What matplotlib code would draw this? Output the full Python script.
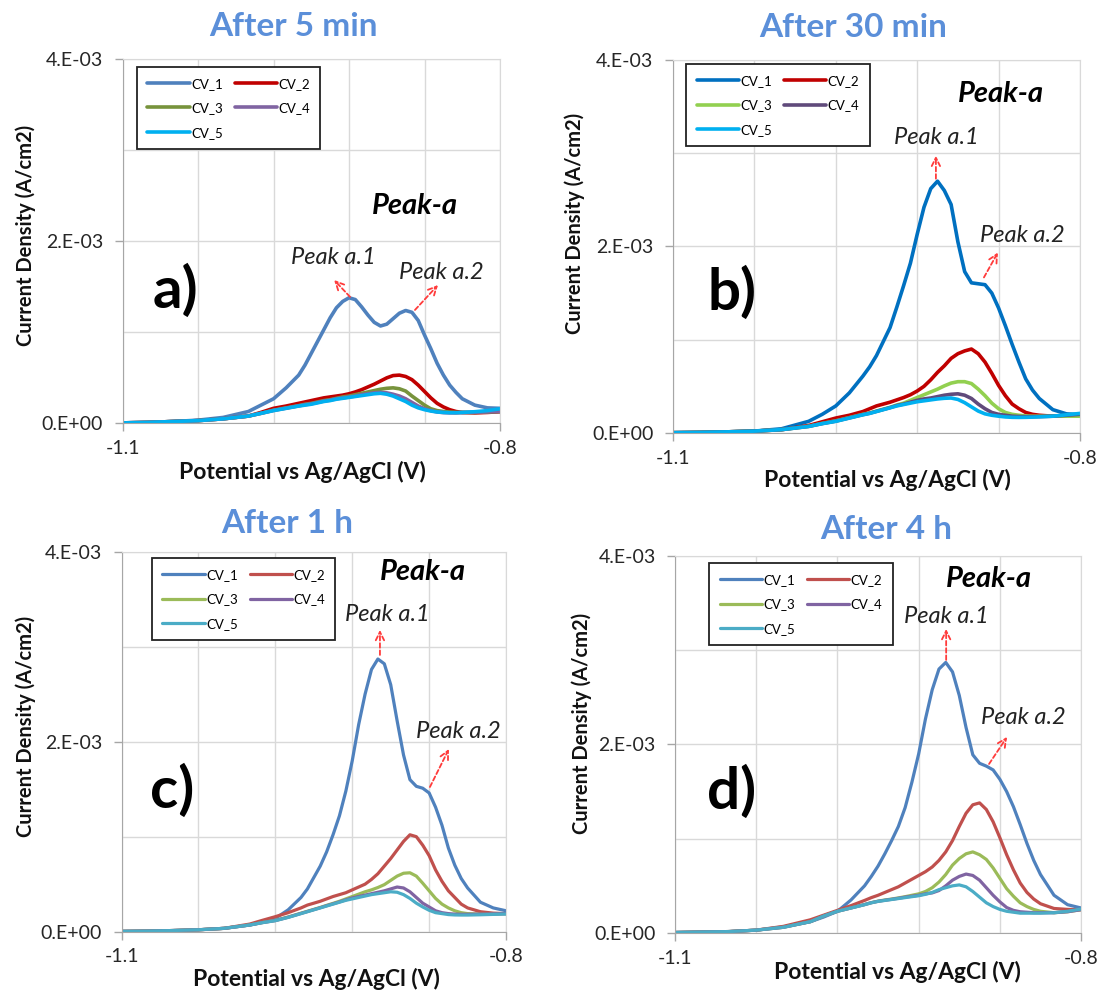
import matplotlib
matplotlib.use('Agg')
import matplotlib.pyplot as plt
from matplotlib.ticker import FuncFormatter, FixedLocator

plt.rcParams['font.family'] = ['Lato', 'DejaVu Sans']
plt.rcParams['axes.unicode_minus'] = False

# ---------------- data (current density in 1e-3 A/cm2) ----------------
POTENTIAL = [-1.10, -1.08, -1.06, -1.04, -1.02, -1.00, -0.99, -0.98, -0.97, -0.96,
             -0.955, -0.95, -0.945, -0.94, -0.935, -0.93, -0.925, -0.92, -0.915, -0.91,
             -0.905, -0.90, -0.895, -0.89, -0.885, -0.88, -0.875, -0.87, -0.865, -0.86,
             -0.855, -0.85, -0.845, -0.84, -0.835, -0.83, -0.82, -0.81, -0.80]

# a) After 5 min
A_CV1 = [0.005, 0.01, 0.02, 0.035, 0.065, 0.13, 0.20, 0.27, 0.39, 0.53,
         0.64, 0.77, 0.90, 1.03, 1.16, 1.27, 1.34, 1.38, 1.36, 1.28,
         1.19, 1.11, 1.07, 1.09, 1.15, 1.21, 1.24, 1.22, 1.13, 0.97,
         0.82, 0.66, 0.53, 0.42, 0.34, 0.27, 0.20, 0.17, 0.165]
A_CV2 = [0.005, 0.01, 0.02, 0.03, 0.05, 0.08, 0.12, 0.165, 0.19, 0.22,
         0.235, 0.25, 0.265, 0.28, 0.29, 0.30, 0.31, 0.325, 0.345, 0.37,
         0.40, 0.43, 0.465, 0.50, 0.525, 0.53, 0.515, 0.48, 0.42, 0.35,
         0.28, 0.22, 0.18, 0.15, 0.13, 0.12, 0.115, 0.12, 0.128]
A_CV3 = [0.005, 0.01, 0.02, 0.03, 0.05, 0.08, 0.11, 0.145, 0.17, 0.195,
         0.21, 0.22, 0.235, 0.25, 0.26, 0.275, 0.29, 0.30, 0.315, 0.33,
         0.345, 0.36, 0.375, 0.385, 0.39, 0.38, 0.355, 0.30, 0.25, 0.20,
         0.16, 0.14, 0.13, 0.124, 0.12, 0.12, 0.12, 0.124, 0.13]
A_CV4 = [0.005, 0.01, 0.02, 0.03, 0.05, 0.08, 0.11, 0.142, 0.167, 0.192,
         0.205, 0.215, 0.23, 0.245, 0.255, 0.27, 0.28, 0.29, 0.30, 0.315,
         0.325, 0.335, 0.34, 0.335, 0.32, 0.30, 0.27, 0.23, 0.19, 0.16,
         0.14, 0.125, 0.118, 0.115, 0.115, 0.118, 0.122, 0.126, 0.13]
A_CV5 = [0.005, 0.01, 0.02, 0.03, 0.05, 0.08, 0.11, 0.14, 0.165, 0.19,
         0.20, 0.21, 0.225, 0.24, 0.25, 0.265, 0.275, 0.285, 0.295, 0.305,
         0.315, 0.325, 0.33, 0.32, 0.30, 0.27, 0.24, 0.20, 0.17, 0.15,
         0.135, 0.125, 0.12, 0.117, 0.117, 0.12, 0.128, 0.14, 0.16]

# b) After 30 min
B_CV1 = [0.003, 0.006, 0.012, 0.02, 0.045, 0.125, 0.20, 0.29, 0.43, 0.61,
         0.71, 0.83, 0.98, 1.13, 1.35, 1.58, 1.82, 2.13, 2.42, 2.62,
         2.70, 2.60, 2.45, 2.05, 1.73, 1.61, 1.60, 1.59, 1.50, 1.34,
         1.15, 0.95, 0.76, 0.58, 0.46, 0.37, 0.25, 0.205, 0.196]
B_CV2 = [0.003, 0.006, 0.012, 0.02, 0.035, 0.08, 0.12, 0.16, 0.19, 0.23,
         0.26, 0.29, 0.31, 0.33, 0.355, 0.38, 0.41, 0.45, 0.50, 0.57,
         0.65, 0.72, 0.80, 0.85, 0.88, 0.90, 0.85, 0.76, 0.64, 0.51,
         0.40, 0.31, 0.26, 0.22, 0.20, 0.19, 0.18, 0.18, 0.18]
B_CV3 = [0.003, 0.006, 0.012, 0.02, 0.036, 0.072, 0.103, 0.13, 0.165, 0.20,
         0.215, 0.235, 0.255, 0.275, 0.30, 0.32, 0.35, 0.38, 0.41, 0.44,
         0.47, 0.505, 0.535, 0.55, 0.55, 0.53, 0.47, 0.40, 0.32, 0.26,
         0.22, 0.20, 0.19, 0.183, 0.18, 0.18, 0.18, 0.18, 0.18]
B_CV4 = [0.003, 0.006, 0.012, 0.02, 0.036, 0.071, 0.101, 0.127, 0.162, 0.197,
         0.212, 0.232, 0.252, 0.272, 0.295, 0.31, 0.33, 0.35, 0.365, 0.375,
         0.39, 0.405, 0.415, 0.42, 0.405, 0.37, 0.31, 0.26, 0.22, 0.20,
         0.19, 0.18, 0.177, 0.175, 0.175, 0.176, 0.18, 0.19, 0.20]
B_CV5 = [0.003, 0.006, 0.012, 0.02, 0.036, 0.07, 0.10, 0.125, 0.16, 0.195,
         0.21, 0.23, 0.25, 0.27, 0.29, 0.305, 0.32, 0.335, 0.345, 0.355,
         0.365, 0.372, 0.375, 0.36, 0.325, 0.28, 0.235, 0.205, 0.19, 0.18,
         0.172, 0.168, 0.167, 0.168, 0.17, 0.173, 0.18, 0.195, 0.21]

# c) After 1 h
C_CV1 = [0.003, 0.006, 0.012, 0.02, 0.035, 0.07, 0.10, 0.14, 0.23, 0.36,
         0.45, 0.57, 0.69, 0.84, 1.02, 1.22, 1.48, 1.80, 2.18, 2.50,
         2.76, 2.87, 2.82, 2.60, 2.22, 1.86, 1.60, 1.53, 1.51, 1.46,
         1.31, 1.12, 0.88, 0.70, 0.56, 0.46, 0.31, 0.25, 0.22]
C_CV2 = [0.003, 0.006, 0.012, 0.02, 0.035, 0.08, 0.12, 0.158, 0.20, 0.25,
         0.28, 0.30, 0.32, 0.345, 0.37, 0.39, 0.41, 0.44, 0.47, 0.50,
         0.55, 0.61, 0.69, 0.77, 0.86, 0.95, 1.02, 1.00, 0.91, 0.80,
         0.65, 0.53, 0.43, 0.36, 0.29, 0.25, 0.21, 0.195, 0.19]
C_CV3 = [0.003, 0.006, 0.012, 0.02, 0.035, 0.071, 0.097, 0.119, 0.155, 0.195,
         0.215, 0.235, 0.255, 0.277, 0.298, 0.32, 0.345, 0.37, 0.395, 0.42,
         0.44, 0.465, 0.495, 0.54, 0.585, 0.615, 0.62, 0.585, 0.51, 0.43,
         0.35, 0.29, 0.25, 0.22, 0.20, 0.19, 0.185, 0.185, 0.19]
C_CV4 = [0.003, 0.006, 0.012, 0.02, 0.035, 0.07, 0.096, 0.117, 0.152, 0.192,
         0.212, 0.232, 0.252, 0.273, 0.293, 0.313, 0.335, 0.355, 0.37, 0.385,
         0.40, 0.415, 0.43, 0.45, 0.47, 0.46, 0.42, 0.36, 0.30, 0.26,
         0.22, 0.20, 0.19, 0.185, 0.183, 0.183, 0.185, 0.187, 0.19]
C_CV5 = [0.003, 0.006, 0.012, 0.02, 0.035, 0.07, 0.095, 0.116, 0.15, 0.19,
         0.21, 0.23, 0.25, 0.27, 0.29, 0.31, 0.33, 0.345, 0.36, 0.375,
         0.39, 0.40, 0.41, 0.42, 0.415, 0.39, 0.35, 0.30, 0.26, 0.225,
         0.20, 0.19, 0.18, 0.176, 0.175, 0.175, 0.178, 0.182, 0.186]

# d) After 4 h
D_CV1 = [0.005, 0.01, 0.015, 0.03, 0.065, 0.12, 0.17, 0.23, 0.35, 0.50,
         0.60, 0.71, 0.84, 0.98, 1.13, 1.33, 1.60, 1.90, 2.27, 2.58,
         2.80, 2.87, 2.77, 2.52, 2.18, 1.89, 1.80, 1.77, 1.73, 1.63,
         1.50, 1.34, 1.15, 0.95, 0.77, 0.62, 0.40, 0.30, 0.265]
D_CV2 = [0.005, 0.01, 0.015, 0.03, 0.07, 0.14, 0.19, 0.24, 0.29, 0.345,
         0.375, 0.40, 0.43, 0.46, 0.49, 0.53, 0.57, 0.61, 0.65, 0.70,
         0.77, 0.86, 0.98, 1.13, 1.27, 1.36, 1.38, 1.31, 1.18, 1.01,
         0.83, 0.67, 0.53, 0.43, 0.36, 0.31, 0.26, 0.25, 0.247]
D_CV3 = [0.005, 0.01, 0.015, 0.03, 0.06, 0.12, 0.18, 0.23, 0.266, 0.302,
         0.322, 0.338, 0.35, 0.36, 0.372, 0.385, 0.40, 0.415, 0.44, 0.48,
         0.54, 0.62, 0.72, 0.79, 0.84, 0.86, 0.83, 0.78, 0.69, 0.58,
         0.47, 0.39, 0.32, 0.28, 0.25, 0.23, 0.215, 0.225, 0.247]
D_CV4 = [0.005, 0.01, 0.015, 0.03, 0.06, 0.12, 0.18, 0.23, 0.265, 0.301,
         0.321, 0.336, 0.347, 0.357, 0.368, 0.38, 0.39, 0.40, 0.415, 0.425,
         0.45, 0.50, 0.56, 0.60, 0.625, 0.61, 0.56, 0.48, 0.40, 0.33,
         0.27, 0.24, 0.225, 0.22, 0.215, 0.215, 0.215, 0.225, 0.247]
D_CV5 = [0.005, 0.01, 0.015, 0.03, 0.06, 0.12, 0.18, 0.23, 0.265, 0.30,
         0.32, 0.335, 0.345, 0.355, 0.365, 0.375, 0.385, 0.395, 0.41, 0.43,
         0.46, 0.48, 0.50, 0.51, 0.49, 0.44, 0.38, 0.32, 0.28, 0.25,
         0.23, 0.22, 0.21, 0.21, 0.21, 0.21, 0.215, 0.23, 0.254]

SERIES_NAMES = ['CV_1', 'CV_2', 'CV_3', 'CV_4', 'CV_5']
PANEL_TITLES = ['After 5 min', 'After 30 min', 'After 1 h', 'After 4 h']
PANEL_LETTERS = ['a)', 'b)', 'c)', 'd)']
Y_TICKS = [0.0, 2e-3, 4e-3]
Y_GRID = [1e-3, 3e-3]
X_TICKS = [-1.1, -0.8]
X_GRID = [-1.04, -0.98, -0.92, -0.86]
UNIT = 1e-3

# ---------------- layout / style ----------------
panels = [
    dict(series=[A_CV1, A_CV2, A_CV3, A_CV4, A_CV5],
         colors=['#4F81BD', '#C00000', '#77933C', '#8064A2', '#00B0F0'], lw=2.6,
         rect=[0.1116, 0.5741, 0.3438, 0.3662], title_xy=(0.454, 1.089),
         letter=(-1.0583, 1.455e-3), peak=(-0.8676, 2.39e-3),
         p1=(-0.9327, 1.82e-3), p2=(-0.8469, 1.66e-3),
         a1=((-0.9192, 1.39e-3), (-0.9319, 1.576e-3)),
         a2=((-0.8676, 1.246e-3), (-0.8493, 1.52e-3)),
         leg=(0.038, 0.979), ylab=(-0.2556, 0.517), xlab=(0.4755, -0.134)),
    dict(series=[B_CV1, B_CV2, B_CV3, B_CV4, B_CV5],
         colors=['#0070C0', '#C00000', '#92D050', '#604A7B', '#00B0F0'], lw=2.6,
         rect=[0.6129, 0.5644, 0.3707, 0.3753], title_xy=(0.442, 1.088),
         letter=(-1.0565, 1.508e-3), peak=(-0.8583, 3.636e-3),
         p1=(-0.9062, 3.166e-3), p2=(-0.8428, 2.118e-3),
         a1=((-0.9062, 2.727e-3), (-0.9062, 2.973e-3)),
         a2=((-0.8708, 1.668e-3), (-0.8605, 1.936e-3)),
         leg=(0.032, 0.989), ylab=(-0.2408, 0.563), xlab=(0.526, -0.126)),
    dict(series=[C_CV1, C_CV2, C_CV3, C_CV4, C_CV5],
         colors=['#4F81BD', '#C0504D', '#9BBB59', '#8064A2', '#4BACC6'], lw=2.3,
         rect=[0.1107, 0.0627, 0.3502, 0.3823], title_xy=(0.430, 1.073),
         letter=(-1.0606, 1.481e-3), peak=(-0.8648, 3.786e-3),
         p1=(-0.8929, 3.334e-3), p2=(-0.8375, 2.102e-3),
         a1=((-0.8984, 2.913e-3), (-0.8984, 3.176e-3)),
         a2=((-0.8594, 1.523e-3), (-0.8446, 1.923e-3)),
         leg=(0.079, 0.983), ylab=(-0.248, 0.539), xlab=(0.508, -0.1245)),
    dict(series=[D_CV1, D_CV2, D_CV3, D_CV4, D_CV5],
         colors=['#4F81BD', '#C0504D', '#9BBB59', '#8064A2', '#4BACC6'], lw=2.3,
         rect=[0.6148, 0.0614, 0.3698, 0.3793], title_xy=(0.52, 1.069),
         letter=(-1.0579, 1.496e-3), peak=(-0.868, 3.756e-3),
         p1=(-0.8997, 3.353e-3), p2=(-0.8428, 2.281e-3),
         a1=((-0.8997, 2.897e-3), (-0.8997, 3.225e-3)),
         a2=((-0.868, 1.793e-3), (-0.8547, 2.08e-3)),
         leg=(0.084, 0.981), ylab=(-0.229, 0.557), xlab=(0.547, -0.103)),
]

TITLE_COLOR = '#5B8FD9'
GRID_COLOR = '#d9d9d9'
AXIS_COLOR = '#a6a6a6'
TEXT_COLOR = '#262626'
ARROW_COLOR = '#FF3B3B'

fig = plt.figure(figsize=(10.98, 9.94), dpi=100)

ytick_fmt = FuncFormatter(lambda v, p: '{:#.0E}'.format(v))
xtick_fmt = FuncFormatter(lambda v, p: '{:.1f}'.format(v))

for i, cfg in enumerate(panels):
    ax = fig.add_axes(cfg['rect'])
    lines = []
    for name, vals, col in zip(SERIES_NAMES, cfg['series'], cfg['colors']):
        ln, = ax.plot(POTENTIAL, [v * UNIT for v in vals], color=col, lw=cfg['lw'],
                      label=name, solid_joinstyle='round', solid_capstyle='round')
        lines.append(ln)

    ax.set_xlim(-1.1, -0.8)
    ax.set_ylim(0, 4e-3)
    ax.xaxis.set_major_locator(FixedLocator(X_TICKS))
    ax.xaxis.set_minor_locator(FixedLocator(X_GRID))
    ax.yaxis.set_major_locator(FixedLocator(Y_TICKS))
    ax.yaxis.set_minor_locator(FixedLocator(Y_GRID))
    ax.yaxis.set_major_formatter(ytick_fmt)
    ax.xaxis.set_major_formatter(xtick_fmt)
    ax.grid(True, which='both', color=GRID_COLOR, lw=1.0)
    ax.set_axisbelow(True)
    ax.tick_params(which='major', direction='out', length=6, width=1,
                   color=AXIS_COLOR, labelsize=14, labelcolor=TEXT_COLOR)
    ax.tick_params(axis='x', which='major', pad=6)
    ax.tick_params(axis='y', which='major', pad=8)
    ax.tick_params(which='minor', length=0)
    for side in ['left', 'bottom']:
        ax.spines[side].set_color(AXIS_COLOR)
    for side in ['top', 'right']:
        ax.spines[side].set_color(GRID_COLOR)

    ax.set_xlabel('Potential vs Ag/AgCl (V)', fontsize=16.5, fontweight='bold',
                  color='#111111', va='center')
    ax.xaxis.set_label_coords(*cfg['xlab'])
    ax.set_ylabel('Current Density (A/cm2)', fontsize=14.5, fontweight='bold',
                  color='#111111', va='center')
    ax.yaxis.set_label_coords(*cfg['ylab'])

    ax.text(cfg['title_xy'][0], cfg['title_xy'][1], PANEL_TITLES[i],
            transform=ax.transAxes, ha='center', va='center',
            fontsize=24, fontweight='bold', color=TITLE_COLOR)

    ax.text(*cfg['letter'], PANEL_LETTERS[i], ha='center', va='center',
            fontsize=42, fontweight='bold', color='black')
    ax.text(*cfg['peak'], 'Peak-a', ha='center', va='center',
            fontsize=21, fontweight='bold', fontstyle='italic', color='black')
    ax.text(*cfg['p1'], 'Peak a.1', ha='center', va='center',
            fontsize=17, fontstyle='italic', color='#222222')
    ax.text(*cfg['p2'], 'Peak a.2', ha='center', va='center',
            fontsize=17, fontstyle='italic', color='#222222')
    for key in ['a1', 'a2']:
        tail, head = cfg[key]
        ax.annotate('', xy=head, xytext=tail,
                    arrowprops=dict(arrowstyle='->', color=ARROW_COLOR, lw=1.3,
                                    linestyle=(0, (2.5, 1.5)), shrinkA=0, shrinkB=0,
                                    mutation_scale=15))

    order = [0, 2, 4, 1, 3]
    leg = ax.legend([lines[k] for k in order], [SERIES_NAMES[k] for k in order],
                    ncol=2, loc='upper left', bbox_to_anchor=cfg['leg'],
                    borderaxespad=0, fontsize=9.5, handlelength=3.2,
                    handletextpad=0.1, columnspacing=0.9, labelspacing=0.95,
                    borderpad=0.8, fancybox=False, framealpha=1)
    leg.get_frame().set_edgecolor('#222222')
    leg.get_frame().set_linewidth(1.3)

fig.savefig('out.png', dpi=100)
